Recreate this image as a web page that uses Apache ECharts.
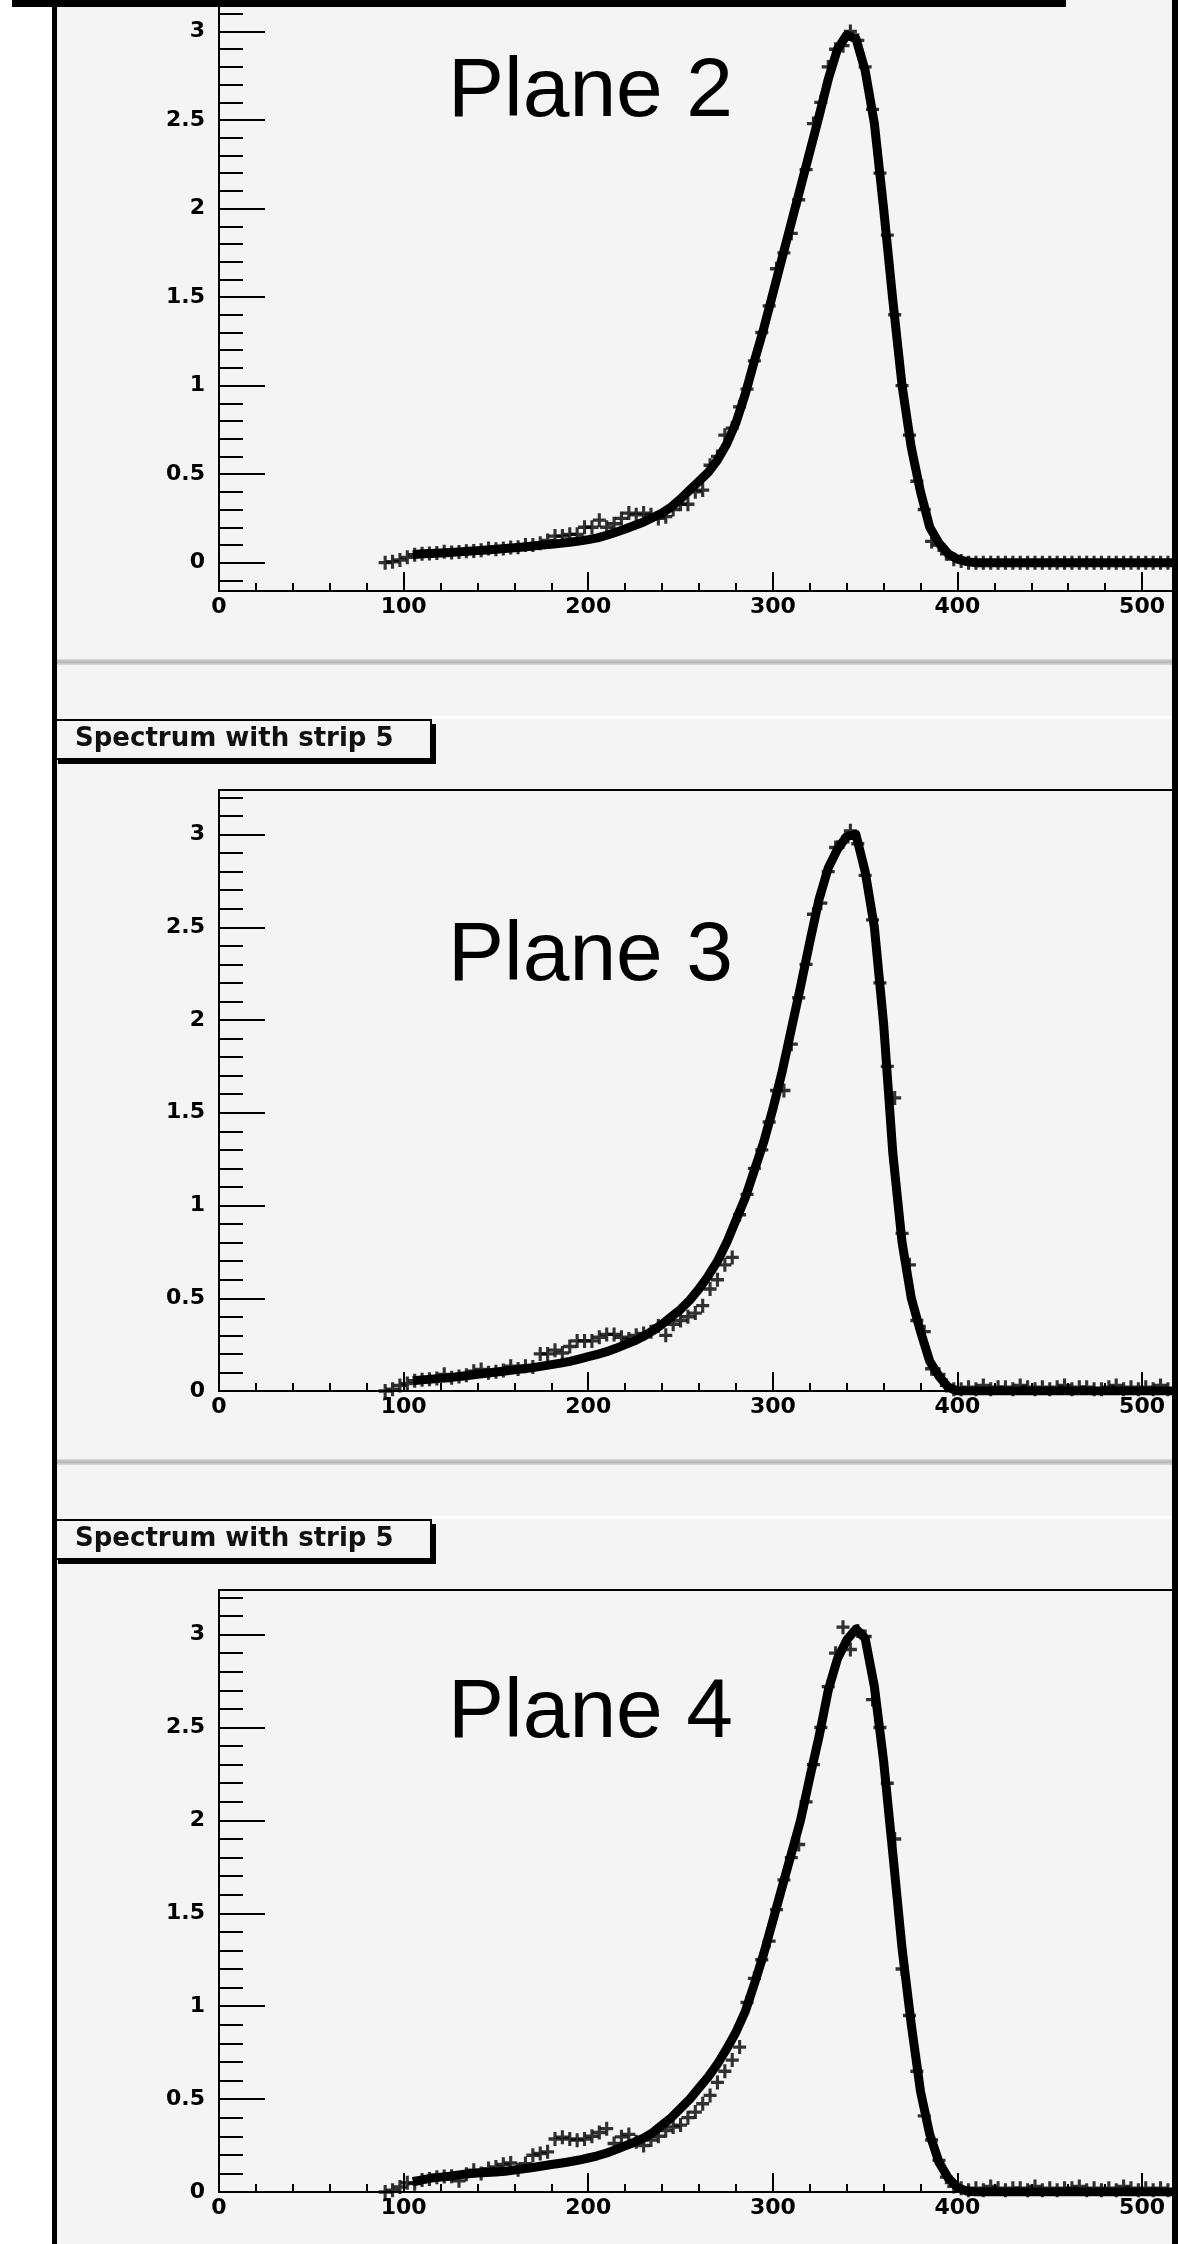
<!DOCTYPE html>
<html>
<head>
<meta charset="utf-8">
<script src="https://cdn.jsdelivr.net/npm/echarts@6/dist/echarts.min.js"></script>
<style>
html,body{margin:0;padding:0;background:#fff;}
#c{width:1178px;height:2244px;}
</style>
</head>
<body>
<div id="c"></div>
<script>
// ---------- DATA ----------
const planeNames = ['Plane 2', 'Plane 3', 'Plane 4'];
const titleText = 'Spectrum with strip 5';

// thick band (dense spectrum), x in channels
const bandX = [105,110,115,120,125,130,135,140,145,150,155,160,165,170,175,180,185,190,195,200,
  205,210,215,220,225,230,235,240,245,250,255,260,265,270,275,280,285,290,295,300,
  305,310,315,320,325,330,335,340,345,350,355,360,365,370,375,380,385,390,395,400,
  405,410,415,420,425,430,435,440,445,450,455,460,465,470,475,480,485,490,495,500,
  505,510,515,520];

const bandPlane2 = [0.045,0.05,0.052,0.055,0.058,0.061,0.064,0.068,0.072,0.076,0.08,0.084,0.089,0.094,0.099,0.104,0.109,0.115,0.122,0.13,
  0.14,0.155,0.172,0.19,0.21,0.23,0.255,0.28,0.315,0.36,0.41,0.46,0.51,0.58,0.67,0.79,0.95,1.14,1.32,1.52,
  1.72,1.92,2.12,2.32,2.52,2.73,2.9,2.98,2.96,2.78,2.48,2.0,1.48,1.0,0.65,0.4,0.2,0.11,0.05,0.02,
  0.006,0,0,0,0,0,0,0,0,0,0,0,0,0,0,0,0,0,0,0,
  0,0,0,0];

const bandPlane3 = [0.055,0.06,0.064,0.068,0.072,0.078,0.084,0.09,0.096,0.102,0.108,0.114,0.12,0.126,0.134,0.142,0.15,0.16,0.172,0.185,
  0.198,0.212,0.23,0.25,0.27,0.295,0.325,0.36,0.4,0.44,0.49,0.55,0.62,0.7,0.8,0.92,1.04,1.19,1.34,1.52,
  1.72,1.95,2.18,2.42,2.65,2.82,2.92,2.99,3.0,2.8,2.5,1.98,1.28,0.8,0.5,0.32,0.16,0.08,0.02,0,
  0,0,0,0,0,0,0,0,0,0,0,0,0,0,0,0,0,0,0,0,
  0,0,0,0];

const bandPlane4 = [0.055,0.065,0.075,0.08,0.085,0.092,0.098,0.102,0.105,0.108,0.112,0.118,0.125,0.132,0.14,0.148,0.155,0.163,0.172,0.183,
  0.195,0.21,0.228,0.248,0.268,0.29,0.32,0.36,0.4,0.45,0.5,0.56,0.62,0.69,0.77,0.86,0.97,1.12,1.28,1.46,
  1.64,1.82,2.0,2.23,2.45,2.7,2.87,2.97,3.03,2.98,2.72,2.32,1.82,1.31,0.9,0.54,0.31,0.16,0.075,0.025,
  0.005,0,0,0,0,0,0,0,0,0,0,0,0,0,0,0,0,0,0,0,
  0,0,0,0];

// cross markers (coarser histogram)
const crossX = [90,94,98,102,106,110,114,118,122,126,130,134,138,142,146,150,154,158,162,166,
  170,174,178,182,186,190,194,198,202,206,210,214,218,222,226,230,234,238,242,246,
  250,254,258,262,266,270,274,278,282,286,290,294,298,302,306,310,314,318,322,326,
  330,334,338,342,346,350,354,358,362,366,370,374,378,382,386,390,394,398,402,406,
  410,414,418,422,426,430,434,438,442,446,450,454,458,462,466,470,474,478,482,486,
  490,494,498,502,506,510,514];

const crossPlane2 = [0,0.005,0.015,0.03,0.045,0.05,0.052,0.054,0.062,0.058,0.06,0.064,0.066,0.07,0.08,0.076,0.08,0.085,0.087,0.1,
  0.1,0.11,0.125,0.15,0.15,0.16,0.16,0.2,0.2,0.24,0.2,0.22,0.25,0.28,0.27,0.28,0.27,0.25,0.26,0.3,
  0.33,0.33,0.4,0.41,0.55,0.6,0.72,0.76,0.88,0.98,1.14,1.3,1.45,1.66,1.75,1.86,2.05,2.22,2.48,2.6,
  2.8,2.9,2.92,3.0,2.95,2.8,2.56,2.2,1.85,1.4,1.0,0.72,0.46,0.3,0.12,0.1,0.05,0.02,0.01,0,
  0,0,0,0,0,0,0,0,0,0,0,0,0,0,0,0,0,0,0,0,
  0,0,0,0,0,0,0];

const crossPlane3 = [0,0.01,0.03,0.04,0.055,0.06,0.063,0.067,0.09,0.072,0.078,0.085,0.107,0.116,0.098,0.104,0.11,0.134,0.118,0.134,
  0.13,0.2,0.2,0.22,0.205,0.24,0.27,0.27,0.27,0.29,0.305,0.305,0.29,0.28,0.3,0.31,0.32,0.35,0.3,0.36,
  0.38,0.4,0.42,0.46,0.55,0.6,0.68,0.72,0.95,1.06,1.2,1.3,1.45,1.62,1.62,1.87,2.12,2.3,2.57,2.63,
  2.8,2.93,2.96,3.02,2.95,2.78,2.54,2.2,1.75,1.58,0.85,0.68,0.38,0.32,0.12,0.09,0.03,0.01,0.01,0.02,
  0.01,0.03,0.01,0.02,0.02,0.01,0.03,0.02,0.01,0.02,0.01,0.02,0.03,0.01,0.02,0.02,0.01,0.01,0.02,0.03,
  0.01,0.02,0.01,0.02,0.01,0.03,0.01];

const crossPlane4 = [0,0.01,0.027,0.05,0.045,0.065,0.07,0.08,0.083,0.085,0.06,0.095,0.117,0.1,0.126,0.135,0.149,0.156,0.12,0.153,
  0.198,0.207,0.216,0.285,0.295,0.285,0.279,0.285,0.3,0.32,0.341,0.261,0.297,0.31,0.27,0.25,0.28,0.3,0.33,0.35,
  0.36,0.4,0.43,0.475,0.52,0.59,0.65,0.71,0.78,1.02,1.15,1.25,1.35,1.52,1.68,1.8,1.87,2.1,2.3,2.5,
  2.72,2.9,3.04,2.92,3.02,2.99,2.65,2.5,2.2,1.9,1.2,0.95,0.65,0.41,0.28,0.17,0.08,0.03,0.02,0.01,
  0.02,0.01,0.03,0.02,0.01,0.02,0.02,0.01,0.03,0.01,0.02,0.01,0.02,0.02,0.03,0.01,0.02,0.01,0.02,0.01,
  0.03,0.02,0.01,0.02,0.01,0.02,0.01];

// tick values
const xMajorTicks = [0,100,200,300,400,500];
const xMinorTicks = [20,40,60,80,120,140,160,180,220,240,260,280,320,340,360,380,420,440,460,480];
const yMajorTicks = [0,0.5,1,1.5,2,2.5,3];
const yMinorTicksTop = [-0.1,0.1,0.2,0.3,0.4,0.6,0.7,0.8,0.9,1.1,1.2,1.3,1.4,1.6,1.7,1.8,1.9,2.1,2.2,2.3,2.4,2.6,2.7,2.8,2.9,3.1,3.2];
const yMinorTicks = [0.1,0.2,0.3,0.4,0.6,0.7,0.8,0.9,1.1,1.2,1.3,1.4,1.6,1.7,1.8,1.9,2.1,2.2,2.3,2.4,2.6,2.7,2.8,2.9,3.1,3.2];

const xRange = [0, 520];
const yRanges = [[-0.16, 3.24], [0, 3.24], [0, 3.24]];

// ---------- LAYOUT ----------
const gridBoxes = [
  {left: 219, top: -11, width: 960, height: 602},
  {left: 219, top: 790, width: 960, height: 601},
  {left: 219, top: 1590, width: 960, height: 602}
];
const planePos = [{x: 448, y: 93}, {x: 448, y: 957}, {x: 448, y: 1714}];

const bands = [bandPlane2, bandPlane3, bandPlane4];
const crosses = [crossPlane2, crossPlane3, crossPlane4];
const yMinors = [yMinorTicksTop, yMinorTicks, yMinorTicks];

const labelFont = {fontFamily: 'DejaVu Sans', fontWeight: 'bold', fontSize: 22, color: '#000'};
const crossPath = 'path://M-1,-0.24L-0.24,-0.24L-0.24,-1L0.24,-1L0.24,-0.24L1,-0.24L1,0.24L0.24,0.24L0.24,1L-0.24,1L-0.24,0.24L-1,0.24Z';

const grid = [], xAxis = [], yAxis = [], series = [];
for (let i = 0; i < 3; i++) {
  const g = gridBoxes[i];
  grid.push({left: g.left, top: g.top, width: g.width, height: g.height,
    show: true, backgroundColor: 'transparent', borderColor: '#000', borderWidth: 2,
    containLabel: false, outerBoundsMode: 'none'});
  // major x axis
  xAxis.push({type: 'value', gridIndex: i, position: 'bottom', min: xRange[0], max: xRange[1],
    axisLine: {show: true, onZero: false, lineStyle: {color: '#000', width: 2}},
    axisTick: {show: true, inside: true, length: 19, lineStyle: {color: '#000', width: 2}, customValues: xMajorTicks},
    axisLabel: Object.assign({show: true, margin: 5, customValues: xMajorTicks}, labelFont),
    splitLine: {show: false}});
  // minor x axis
  xAxis.push({type: 'value', gridIndex: i, position: 'bottom', min: xRange[0], max: xRange[1],
    axisLine: {show: false, onZero: false},
    axisTick: {show: true, inside: true, length: 8, lineStyle: {color: '#000', width: 2}, customValues: xMinorTicks},
    axisLabel: {show: false},
    splitLine: {show: false}});
  // major y axis
  yAxis.push({type: 'value', gridIndex: i, position: 'left', min: yRanges[i][0], max: yRanges[i][1],
    axisLine: {show: true, onZero: false, lineStyle: {color: '#000', width: 2}},
    axisTick: {show: true, inside: true, length: 46, lineStyle: {color: '#000', width: 2}, customValues: yMajorTicks},
    axisLabel: Object.assign({show: true, margin: 14, customValues: yMajorTicks}, labelFont),
    splitLine: {show: false}});
  // minor y axis
  yAxis.push({type: 'value', gridIndex: i, position: 'left', min: yRanges[i][0], max: yRanges[i][1],
    axisLine: {show: false, onZero: false},
    axisTick: {show: true, inside: true, length: 24, lineStyle: {color: '#000', width: 2}, customValues: yMinors[i]},
    axisLabel: {show: false},
    splitLine: {show: false}});

  series.push({type: 'scatter', xAxisIndex: 2 * i, yAxisIndex: 2 * i,
    data: crossX.map((x, k) => [x, crosses[i][k]]),
    symbol: crossPath, symbolSize: [13, 14],
    itemStyle: {color: '#000'}, z: 3, silent: true});
  series.push({type: 'line', xAxisIndex: 2 * i, yAxisIndex: 2 * i,
    data: bandX.map((x, k) => [x, bands[i][k]]),
    showSymbol: false, symbol: 'none',
    lineStyle: {color: '#000', width: 9, join: 'round', cap: 'butt'},
    z: 4, silent: true});
}

// ---------- DECOR ----------
const sepGrad = {type: 'linear', x: 0, y: 0, x2: 0, y2: 1,
  colorStops: [{offset: 0, color: '#dcdcdc'}, {offset: 0.5, color: '#b4b4b4'}, {offset: 1, color: '#dcdcdc'}]};

const graphic = [
  {type: 'rect', shape: {x: 57, y: 0, width: 1115, height: 2244}, style: {fill: '#f4f4f4'}, z: -100, silent: true},
  {type: 'rect', shape: {x: 57, y: 659, width: 1115, height: 6}, style: {fill: sepGrad}, z: 50, silent: true},
  {type: 'rect', shape: {x: 57, y: 1459, width: 1115, height: 6}, style: {fill: sepGrad}, z: 50, silent: true},
  {type: 'rect', shape: {x: 432, y: 716, width: 740, height: 3}, style: {fill: '#ffffff'}, z: 50, silent: true},
  {type: 'rect', shape: {x: 432, y: 1516, width: 740, height: 3}, style: {fill: '#ffffff'}, z: 50, silent: true},
  {type: 'rect', shape: {x: 52, y: 0, width: 5, height: 2244}, style: {fill: '#000'}, z: 120, silent: true},
  {type: 'rect', shape: {x: 1172, y: 0, width: 6, height: 2244}, style: {fill: '#000'}, z: 120, silent: true},
  {type: 'rect', shape: {x: 12, y: 0, width: 1054, height: 7}, style: {fill: '#000'}, z: 120, silent: true}
];
[720, 1520].forEach(function (by) {
  graphic.push({type: 'rect', shape: {x: 58, y: by + 4, width: 378, height: 40}, style: {fill: '#000'}, z: 60, silent: true});
  graphic.push({type: 'rect', shape: {x: 55, y: by, width: 376, height: 39}, style: {fill: '#f4f4f4', stroke: '#000', lineWidth: 2}, z: 61, silent: true});
  graphic.push({type: 'text', x: 75, y: by + 19, style: {text: titleText, fontFamily: 'DejaVu Sans', fontWeight: 'bold', fontSize: 26, fill: '#111', verticalAlign: 'middle', align: 'left'}, z: 62, silent: true});
});
for (let i = 0; i < 3; i++) {
  graphic.push({type: 'text', x: planePos[i].x, y: planePos[i].y,
    style: {text: planeNames[i], fontFamily: 'Liberation Sans', fontSize: 84, fill: '#000', verticalAlign: 'middle', align: 'left'},
    z: 130, silent: true});
}

const chart = echarts.init(document.getElementById('c'), null, {renderer: 'canvas', width: 1178, height: 2244});
chart.setOption({
  animation: false,
  backgroundColor: '#ffffff',
  grid: grid, xAxis: xAxis, yAxis: yAxis, series: series, graphic: graphic
});
</script>
</body>
</html>
